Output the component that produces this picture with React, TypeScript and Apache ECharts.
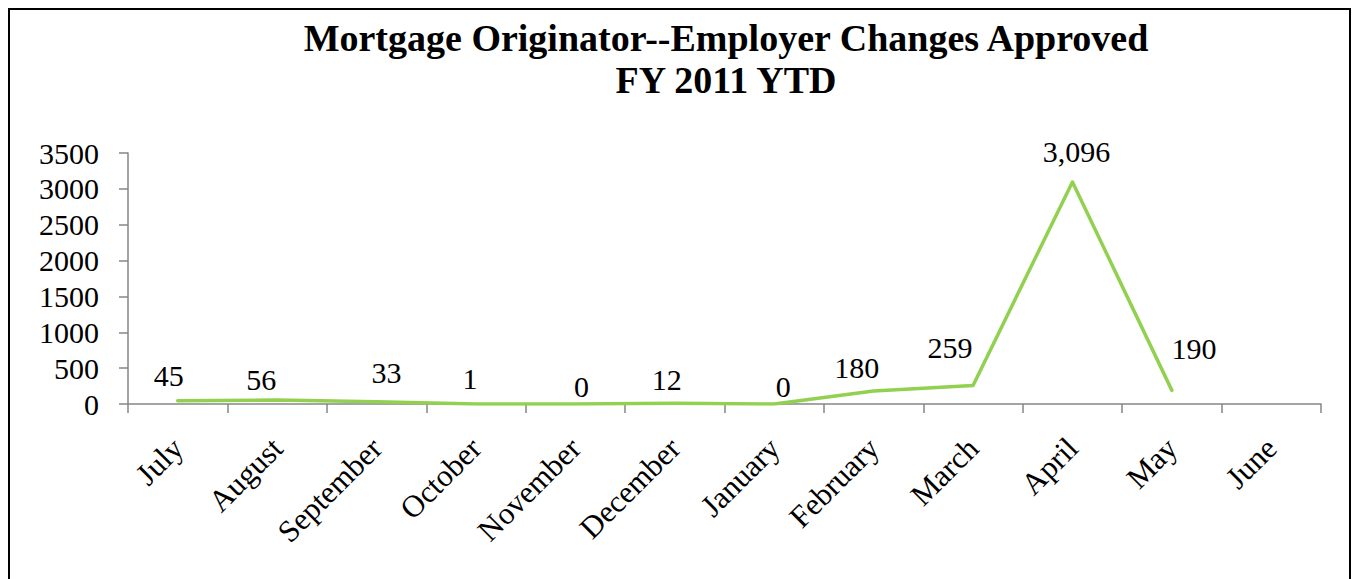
import React, { useEffect, useRef } from "react";
import * as echarts from "echarts";

const titleLines = ["Mortgage Originator--Employer Changes Approved", "FY 2011 YTD"];
const months = ["July", "August", "September", "October", "November", "December", "January", "February", "March", "April", "May", "June"];
const approved: (number | null)[] = [45, 56, 33, 1, 0, 12, 0, 180, 259, 3096, 190, null];
const yTicks = [0, 500, 1000, 1500, 2000, 2500, 3000, 3500];
// label offsets (styling, px) relative to each point
const labelOffsets: [number, number][] = [
  [-9, -25], [-16, -20], [10, -29], [-6, -25], [6, -18], [-8, -24],
  [9, -18], [-17, -24], [-23, -38], [4, -30], [22, -42], [0, 0],
];

const FONT = "'Liberation Serif', 'Times New Roman', serif";

export default function App() {
  const ref = useRef<HTMLDivElement>(null);
  useEffect(() => {
    if (!ref.current) return;
    const chart = echarts.init(ref.current, null, { renderer: "svg" });
    chart.setOption({
      animation: false,
      backgroundColor: "#ffffff",
      title: {
        text: titleLines.join("\n"),
        left: 726,
        top: 17,
        padding: 0,
        textAlign: "center",
        textStyle: {
          fontFamily: FONT,
          fontWeight: "bold",
          fontSize: 38,
          lineHeight: 42,
          color: "#000",
        },
      },
      graphic: [
        {
          type: "rect",
          shape: { x: 9, y: 9, width: 1341, height: 600 },
          style: { fill: "none", stroke: "#000", lineWidth: 2 },
          silent: true,
        },
      ],
      grid: { left: 128, right: 33, top: 153, bottom: 175 },
      xAxis: {
        type: "category",
        data: months,
        boundaryGap: true,
        axisLine: { lineStyle: { color: "#868686", width: 1.5 } },
        axisTick: { show: true, length: 9, lineStyle: { color: "#868686", width: 1.5 } },
        axisLabel: {
          rotate: 45,
          interval: 0,
          margin: 39,
          fontFamily: FONT,
          fontSize: 31,
          color: "#000",
        },
        splitLine: { show: false },
      },
      yAxis: {
        type: "value",
        min: yTicks[0],
        max: yTicks[yTicks.length - 1],
        interval: 500,
        axisLine: { show: true, lineStyle: { color: "#868686", width: 1.5 } },
        axisTick: { show: true, length: 9, lineStyle: { color: "#868686", width: 1.5 } },
        axisLabel: {
          margin: 29,
          fontFamily: FONT,
          fontSize: 30,
          color: "#000",
          formatter: (v: number) => String(v),
        },
        splitLine: { show: false },
      },
      series: [
        {
          type: "line",
          data: approved.map((v, i) => ({
            value: v,
            label: { offset: labelOffsets[i] },
          })),
          symbol: "circle",
          symbolSize: 1,
          showSymbol: true,
          itemStyle: { color: "rgba(0,0,0,0)" },
          lineStyle: { color: "#92D050", width: 3.5, cap: "round", join: "round" },
          label: {
            show: true,
            position: "inside",
            fontFamily: FONT,
            fontSize: 30,
            color: "#000",
            formatter: (p: any) => (p.value == null ? "" : Number(p.value).toLocaleString("en-US")),
          },
        },
      ],
    });
    return () => chart.dispose();
  }, []);
  return (
    <div
      ref={ref}
      style={{ position: "fixed", left: 0, top: 0, width: 1354, height: 579 }}
    />
  );
}
